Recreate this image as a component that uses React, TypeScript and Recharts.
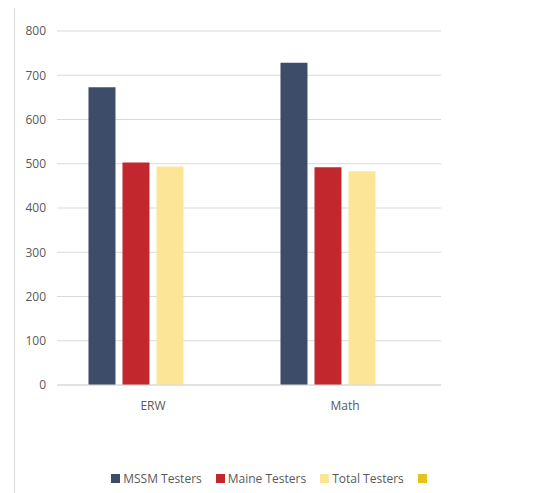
import { BarChart, Bar, XAxis, YAxis, CartesianGrid, Legend } from 'recharts';

const categories = ['ERW', 'Math'];
const mssmScores = [673, 728];
const maineScores = [503, 492];
const totalScores = [494, 483];
const blankSeries = [0, 0];
const yTicks = [0, 100, 200, 300, 400, 500, 600, 700, 800];
const seriesOrder = ['mssm', 'maine', 'total', 'blank'];

const data = categories.map((name, i) => ({
  name,
  mssm: mssmScores[i],
  maine: maineScores[i],
  total: totalScores[i],
  blank: blankSeries[i],
}));

const FONT = '"Open Sans", "Liberation Sans", sans-serif';
const TEXT = '#595959';

function LegendRow({ payload }: any) {
  const items = [...(payload || [])].sort(
    (a: any, b: any) => seriesOrder.indexOf(a.dataKey) - seriesOrder.indexOf(b.dataKey)
  );
  return (
    <div style={{ display: 'flex', justifyContent: 'center', fontFamily: FONT, fontSize: 12, color: TEXT, paddingRight: 19 }}>
      {items.map((p: any, i: number) => (
        <div key={p.dataKey} style={{ display: 'flex', alignItems: 'center', marginRight: i < items.length - 1 ? 14 : 0 }}>
          <span style={{ width: 9, height: 9, background: p.color, display: 'inline-block', marginRight: 3 }} />
          <span>{p.value}</span>
        </div>
      ))}
    </div>
  );
}

export default function App() {
  return (
    <div style={{ marginLeft: 6, marginTop: -1, width: 540, height: 486, border: '1px solid #d9d9d9', background: '#fff' }}>
      <BarChart
        width={530}
        height={485}
        data={data}
        margin={{ top: 23, right: 104, bottom: 61, left: 0 }}
        barCategoryGap="16.4%"
        barGap={7}
      >
        <CartesianGrid vertical={false} stroke="#d9d9d9" />
        <XAxis
          dataKey="name"
          axisLine={{ stroke: '#d9d9d9' }}
          tickLine={false}
          tickSize={0}
          tickMargin={16}
          tick={{ fontFamily: FONT, fontSize: 12, fill: TEXT }}
        />
        <YAxis
          width={42}
          domain={[0, 800]}
          ticks={yTicks}
          axisLine={false}
          tickLine={false}
          tickSize={0}
          tickMargin={11}
          tick={{ fontFamily: FONT, fontSize: 12, fill: TEXT }}
        />
        <Legend verticalAlign="bottom" wrapperStyle={{ bottom: 6, left: 0, width: 530 }} content={LegendRow} />
        <Bar dataKey="mssm" name="MSSM Testers" fill="#3d4c68" isAnimationActive={false} />
        <Bar dataKey="maine" name="Maine Testers" fill="#c1272d" isAnimationActive={false} />
        <Bar dataKey="total" name="Total Testers" fill="#fde598" isAnimationActive={false} />
        <Bar dataKey="blank" name="" fill="#e5c31a" isAnimationActive={false} />
      </BarChart>
    </div>
  );
}
